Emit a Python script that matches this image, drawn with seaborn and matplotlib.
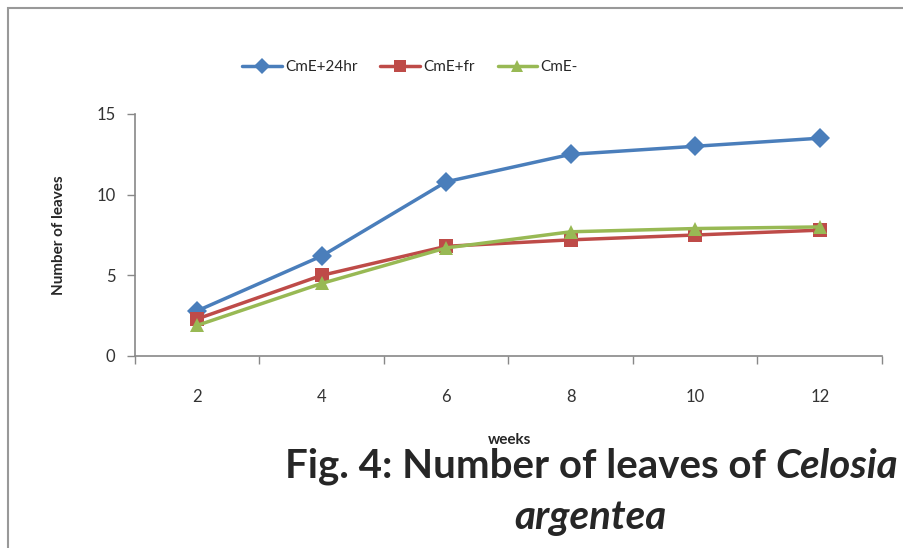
import matplotlib
matplotlib.use("Agg")
import matplotlib.pyplot as plt
import seaborn as sns
import pandas as pd
from matplotlib.patches import Rectangle

weeks = [2, 4, 6, 8, 10, 12]
cme_24hr = [2.8, 6.2, 10.8, 12.5, 13.0, 13.5]
cme_fr = [2.3, 5.0, 6.8, 7.2, 7.5, 7.8]
cme_minus = [1.9, 4.5, 6.7, 7.7, 7.9, 8.0]
series_names = ["CmE+24hr", "CmE+fr", "CmE-"]
y_ticks = [0, 5, 10, 15]

sns.set_style("white")
plt.rcParams['font.family'] = ['Lato', 'DejaVu Sans']

df = pd.DataFrame({
    "weeks": weeks * 3,
    "value": cme_24hr + cme_fr + cme_minus,
    "series": sum([[n] * len(weeks) for n in series_names], []),
})

fig = plt.figure(figsize=(9.04, 5.48), dpi=100)
ax = fig.add_axes([135/904, 1-356/548, (882-135)/904, (356-114)/548])

palette = {"CmE+24hr": "#4A7EBB", "CmE+fr": "#BE4B48", "CmE-": "#98B954"}
markers = {"CmE+24hr": "D", "CmE+fr": "s", "CmE-": "^"}
sns.lineplot(data=df, x="weeks", y="value", hue="series", style="series",
             palette=palette, markers=markers, dashes=False, linewidth=2.5,
             markersize=10, markeredgewidth=0, ax=ax, legend=True)

ax.set_xlim(1, 13)
ax.set_ylim(0, 15)
ax.set_xticks([1, 3, 5, 7, 9, 11, 13])
ax.set_xticklabels([])
ax.set_xticks(weeks, minor=True)
ax.set_xticklabels([str(w) for w in weeks], minor=True)
ax.tick_params(axis='x', which='major', bottom=True, length=6, width=1, color='#888888', direction='out')
ax.tick_params(axis='x', which='minor', bottom=True, length=0, pad=24, labelsize=12, labelcolor='#333333')
ax.set_yticks(y_ticks)
ax.tick_params(axis='y', left=True, length=6, width=1, color='#888888', direction='out', labelsize=12,
               labelcolor='#333333', pad=8)
for s in ['top', 'right']:
    ax.spines[s].set_visible(False)
for s in ['left', 'bottom']:
    ax.spines[s].set_color('#888888')
    ax.spines[s].set_linewidth(1.2)

ax.set_xlabel("")
ax.set_ylabel("Number of leaves", fontsize=11, fontweight='bold', labelpad=22)

handles, labels = ax.get_legend_handles_labels()
ax.get_legend().remove()
for h in handles:
    h.set_markersize(8)
fig.legend(handles, labels, loc='center', bbox_to_anchor=(410/904, 1-67/548), ncol=3,
           frameon=False, fontsize=11, handlelength=2.6, columnspacing=1.5, handletextpad=0.2)

fig.text(510/904, 1-440/548, "weeks", ha='center', va='center', fontsize=11, fontweight='bold')

# title line 1: normal bold + bold italic part
fs = 29
t1 = fig.text(0, 1-466/548, "Fig. 4: Number of leaves of ", ha='left', va='center',
              fontsize=fs, fontweight='bold')
t2 = fig.text(0, 1-466/548, "Celosia", ha='left', va='center', fontsize=fs,
              fontweight='bold', style='italic')
fig.canvas.draw()
r = fig.canvas.get_renderer()
w1 = t1.get_window_extent(r).width
w2 = t2.get_window_extent(r).width
x0 = 898 - (w1 + w2)
t1.set_x(x0 / 904)
t2.set_x((x0 + w1) / 904)
fig.text(590/904, 1-518/548, "argentea", ha='center', va='center', fontsize=fs,
         fontweight='bold', style='italic')

fig.patches.append(Rectangle((8/904, -0.1), 1.2, 1 - 8/548 + 0.1, transform=fig.transFigure,
                             fill=False, edgecolor='#999999', linewidth=1.5))

fig.savefig("out.png", dpi=100)
